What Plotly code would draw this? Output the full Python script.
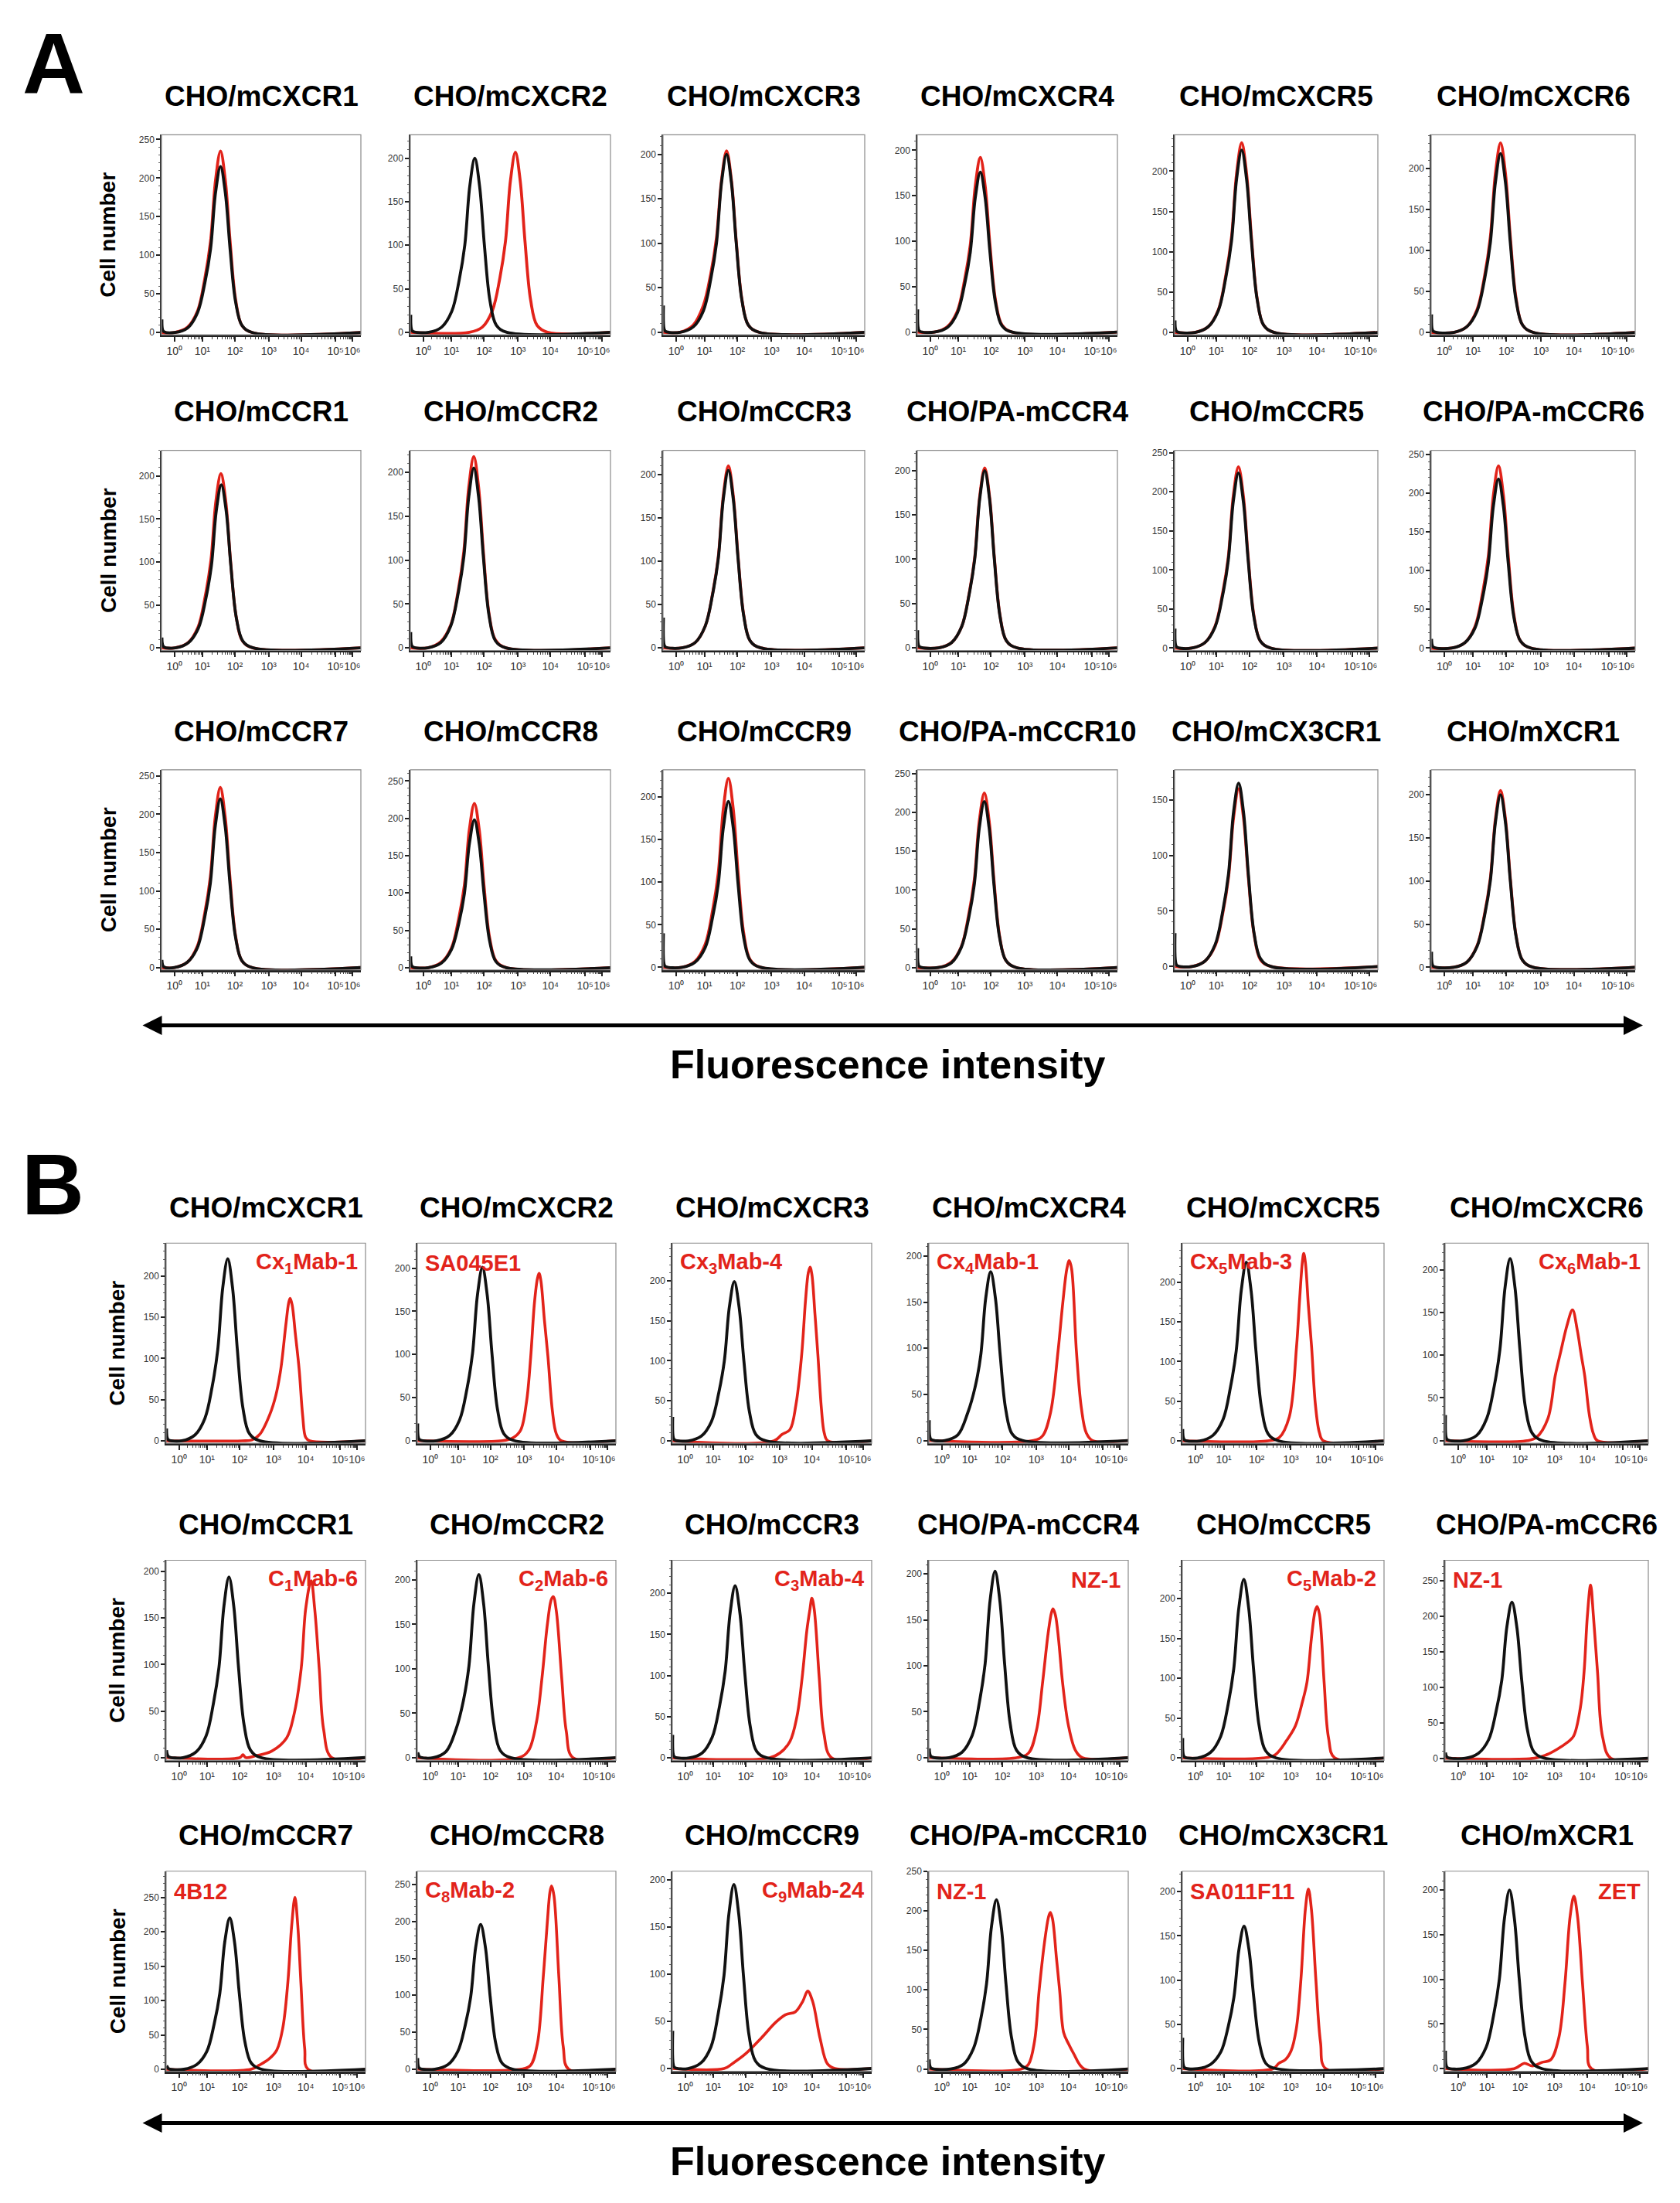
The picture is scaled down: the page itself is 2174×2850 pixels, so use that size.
import numpy as np
import plotly.graph_objects as go

# page size and the default 8px body margin of the html page
PAGE_W, PAGE_H = 2174, 2850
OFF = 8
FW, FH = PAGE_W - 2 * OFF, PAGE_H - 2 * OFF

RED = "#E2231A"
BLACK = "#111111"
FONT = "Liberation Sans, Arial, sans-serif"

TITLES = [
    "CHO/mCXCR1", "CHO/mCXCR2", "CHO/mCXCR3", "CHO/mCXCR4", "CHO/mCXCR5", "CHO/mCXCR6",
    "CHO/mCCR1", "CHO/mCCR2", "CHO/mCCR3", "CHO/PA-mCCR4", "CHO/mCCR5", "CHO/PA-mCCR6",
    "CHO/mCCR7", "CHO/mCCR8", "CHO/mCCR9", "CHO/PA-mCCR10", "CHO/mCX3CR1", "CHO/mXCR1",
]

B_LABELS = [
    "Cx<sub>1</sub>Mab-1", "SA045E1", "Cx<sub>3</sub>Mab-4", "Cx<sub>4</sub>Mab-1", "Cx<sub>5</sub>Mab-3", "Cx<sub>6</sub>Mab-1",
    "C<sub>1</sub>Mab-6", "C<sub>2</sub>Mab-6", "C<sub>3</sub>Mab-4", "NZ-1", "C<sub>5</sub>Mab-2", "NZ-1",
    "4B12", "C<sub>8</sub>Mab-2", "C<sub>9</sub>Mab-24", "NZ-1", "SA011F11", "ZET",
]
B_LABEL_SIDE = [
    "right", "left", "left", "left", "left", "right",
    "right", "right", "right", "right", "right", "left",
    "left", "left", "right", "left", "left", "right",
]

# channel position (0-1000 display scale) of 10^0 ... 10^6 and their labels
DECADES = [65, 205, 368, 538, 700, 873, 957]
DECADE_LABELS = ["10⁰", "10¹", "10²", "10³", "10⁴", "10⁵", "10⁶"]

YTOP_A = [256, 227, 222, 217, 245, 241, 230, 225, 228, 223, 253, 255, 258, 265, 232, 255, 177, 229]
YTOP_B = [240, 229, 247, 214, 249, 231, 212, 222, 240, 215, 248, 279, 288, 268, 209, 250, 223, 221]

# ---- section A: control (black) vs. staining (red)
A_BLACK_X = [
    [2, 5, 12, 66, 131, 181, 218, 246, 271, 296, 320, 344, 372, 404, 456, 1000],
    [2, 5, 12, 92, 157, 207, 244, 272, 297, 322, 346, 370, 398, 430, 482, 1000],
    [2, 5, 12, 85, 150, 200, 237, 265, 290, 315, 339, 363, 391, 423, 475, 1000],
    [2, 5, 12, 85, 150, 200, 237, 265, 290, 315, 339, 363, 391, 423, 475, 1000],
    [2, 5, 12, 100, 165, 215, 252, 280, 305, 330, 354, 378, 406, 438, 490, 1000],
    [2, 5, 12, 110, 175, 225, 262, 290, 315, 340, 364, 388, 416, 448, 500, 1000],
    [2, 5, 12, 70, 135, 185, 222, 250, 275, 300, 324, 348, 376, 408, 460, 1000],
    [2, 5, 12, 87, 152, 202, 239, 267, 292, 317, 341, 365, 393, 425, 477, 1000],
    [2, 5, 12, 94, 159, 209, 246, 274, 299, 324, 348, 372, 400, 432, 484, 1000],
    [2, 5, 12, 107, 172, 222, 259, 287, 312, 337, 361, 385, 413, 445, 497, 1000],
    [2, 5, 12, 84, 149, 199, 236, 264, 289, 314, 338, 362, 390, 422, 474, 1000],
    [2, 5, 12, 100, 165, 215, 252, 280, 305, 330, 354, 378, 406, 438, 490, 1000],
    [2, 5, 12, 65, 130, 180, 217, 245, 270, 295, 319, 343, 371, 403, 455, 1000],
    [2, 5, 12, 90, 155, 205, 242, 270, 295, 320, 344, 368, 396, 428, 480, 1000],
    [2, 5, 12, 94, 159, 209, 246, 274, 299, 324, 348, 372, 400, 432, 484, 1000],
    [2, 5, 12, 105, 170, 220, 257, 285, 310, 335, 359, 383, 411, 443, 495, 1000],
    [2, 5, 12, 85, 150, 200, 237, 265, 290, 315, 339, 363, 391, 423, 475, 1000],
    [2, 5, 12, 110, 175, 225, 262, 290, 315, 340, 364, 388, 416, 448, 500, 1000],
]
A_BLACK_Y = [
    [17, 4, 1, 0, 6, 26, 65, 108, 181, 215, 181, 108, 39, 9, 0, 0],
    [20, 4, 1, 0, 6, 24, 60, 100, 168, 200, 168, 100, 36, 8, 0, 0],
    [30, 4, 1, 0, 6, 24, 60, 100, 168, 200, 168, 100, 36, 8, 0, 0],
    [25, 4, 1, 0, 5, 21, 53, 88, 148, 176, 148, 88, 32, 7, 0, 0],
    [15, 4, 1, 0, 7, 27, 68, 113, 190, 226, 190, 113, 41, 9, 0, 0],
    [22, 4, 1, 0, 7, 26, 65, 109, 183, 218, 183, 109, 39, 9, 0, 0],
    [12, 4, 1, 0, 6, 23, 57, 95, 160, 190, 160, 95, 34, 8, 0, 0],
    [18, 4, 1, 0, 6, 25, 62, 103, 172, 205, 172, 103, 37, 8, 0, 0],
    [35, 4, 1, 0, 6, 25, 62, 103, 172, 205, 172, 103, 37, 8, 0, 0],
    [20, 4, 1, 0, 6, 24, 60, 100, 168, 200, 168, 100, 36, 8, 0, 0],
    [25, 4, 1, 0, 7, 27, 67, 112, 188, 224, 188, 112, 40, 9, 0, 0],
    [12, 4, 1, 0, 7, 26, 65, 109, 183, 218, 183, 109, 39, 9, 0, 0],
    [10, 4, 1, 0, 7, 26, 66, 110, 185, 220, 185, 110, 40, 9, 0, 0],
    [15, 4, 1, 0, 6, 24, 59, 99, 166, 198, 166, 99, 36, 8, 0, 0],
    [40, 4, 1, 0, 6, 23, 59, 98, 164, 195, 164, 98, 35, 8, 0, 0],
    [25, 4, 1, 0, 6, 26, 64, 107, 180, 214, 180, 107, 39, 9, 0, 0],
    [30, 4, 1, 0, 5, 20, 50, 83, 139, 165, 139, 83, 30, 7, 0, 0],
    [18, 4, 1, 0, 6, 24, 60, 100, 168, 200, 168, 100, 36, 8, 0, 0],
]
A_RED_X = [
    [0, 66, 131, 181, 218, 246, 271, 296, 320, 344, 372, 404, 456, 1000],
    [0, 295, 360, 410, 447, 475, 500, 525, 549, 573, 601, 633, 685, 1000],
    [0, 85, 150, 200, 237, 265, 290, 315, 339, 363, 391, 423, 475, 1000],
    [0, 85, 150, 200, 237, 265, 290, 315, 339, 363, 391, 423, 475, 1000],
    [0, 100, 165, 215, 252, 280, 305, 330, 354, 378, 406, 438, 490, 1000],
    [0, 110, 175, 225, 262, 290, 315, 340, 364, 388, 416, 448, 500, 1000],
    [0, 68, 133, 183, 220, 248, 273, 298, 322, 346, 374, 406, 458, 1000],
    [0, 87, 152, 202, 239, 267, 292, 317, 341, 365, 393, 425, 477, 1000],
    [0, 94, 159, 209, 246, 274, 299, 324, 348, 372, 400, 432, 484, 1000],
    [0, 107, 172, 222, 259, 287, 312, 337, 361, 385, 413, 445, 497, 1000],
    [0, 84, 149, 199, 236, 264, 289, 314, 338, 362, 390, 422, 474, 1000],
    [0, 100, 165, 215, 252, 280, 305, 330, 354, 378, 406, 438, 490, 1000],
    [0, 65, 130, 180, 217, 245, 270, 295, 319, 343, 371, 403, 455, 1000],
    [0, 90, 155, 205, 242, 270, 295, 320, 344, 368, 396, 428, 480, 1000],
    [0, 94, 159, 209, 246, 274, 299, 324, 348, 372, 400, 432, 484, 1000],
    [0, 105, 170, 220, 257, 285, 310, 335, 359, 383, 411, 443, 495, 1000],
    [0, 85, 150, 200, 237, 265, 290, 315, 339, 363, 391, 423, 475, 1000],
    [0, 110, 175, 225, 262, 290, 315, 340, 364, 388, 416, 448, 500, 1000],
]
A_RED_Y = [
    [0, 0, 7, 28, 71, 118, 197, 235, 197, 118, 42, 9, 0, 0],
    [0, 0, 6, 25, 62, 104, 174, 207, 174, 104, 37, 8, 0, 0],
    [0, 0, 8, 30, 66, 106, 171, 204, 171, 102, 37, 8, 0, 0],
    [0, 0, 6, 23, 58, 96, 161, 192, 161, 96, 35, 8, 0, 0],
    [0, 0, 7, 28, 71, 118, 197, 235, 197, 118, 42, 9, 0, 0],
    [0, 0, 7, 28, 69, 116, 194, 231, 194, 116, 42, 9, 0, 0],
    [0, 0, 6, 24, 61, 102, 171, 203, 171, 102, 37, 8, 0, 0],
    [0, 0, 7, 26, 65, 109, 183, 218, 183, 109, 39, 9, 0, 0],
    [0, 0, 6, 25, 63, 105, 176, 210, 176, 105, 38, 8, 0, 0],
    [0, 0, 6, 24, 61, 102, 171, 203, 171, 102, 37, 8, 0, 0],
    [0, 0, 7, 28, 70, 116, 195, 232, 195, 116, 42, 9, 0, 0],
    [0, 0, 7, 28, 71, 118, 197, 235, 197, 118, 42, 9, 0, 0],
    [0, 0, 7, 28, 71, 118, 197, 235, 197, 118, 42, 9, 0, 0],
    [0, 0, 7, 26, 66, 110, 185, 220, 185, 110, 40, 9, 0, 0],
    [0, 0, 7, 27, 67, 111, 186, 222, 186, 111, 40, 9, 0, 0],
    [0, 0, 7, 27, 68, 113, 189, 225, 189, 113, 41, 9, 0, 0],
    [0, 0, 5, 19, 48, 80, 134, 160, 134, 80, 29, 6, 0, 0],
    [0, 0, 6, 25, 62, 103, 172, 205, 172, 103, 37, 8, 0, 0],
]

# ---- section B: control (black) vs. specific mAb (red)
B_BLACK_X = [
    [2, 5, 12, 79, 144, 194, 231, 259, 284, 309, 333, 357, 385, 417, 469, 1000],
    [2, 5, 12, 98, 163, 213, 250, 278, 303, 328, 352, 376, 404, 436, 488, 1000],
    [2, 5, 12, 81, 146, 196, 233, 261, 286, 311, 335, 359, 387, 419, 471, 1000],
    [2, 5, 12, 80, 145, 195, 232, 260, 285, 310, 334, 358, 386, 418, 470, 1000],
    [2, 5, 12, 87, 152, 202, 239, 267, 292, 317, 341, 365, 393, 425, 477, 1000],
    [2, 5, 12, 90, 155, 205, 242, 270, 295, 320, 344, 368, 396, 428, 480, 1000],
    [2, 5, 12, 85, 150, 200, 237, 265, 290, 315, 339, 363, 391, 423, 475, 1000],
    [2, 5, 12, 80, 145, 195, 232, 260, 285, 310, 334, 358, 386, 418, 470, 1000],
    [2, 5, 12, 85, 150, 200, 237, 265, 290, 315, 339, 363, 391, 423, 475, 1000],
    [2, 5, 12, 102, 167, 217, 254, 282, 307, 332, 356, 380, 408, 440, 492, 1000],
    [2, 5, 12, 75, 140, 190, 227, 255, 280, 305, 329, 353, 381, 413, 465, 1000],
    [2, 5, 12, 99, 164, 214, 251, 279, 304, 329, 353, 377, 405, 437, 489, 1000],
    [2, 5, 12, 89, 154, 204, 241, 269, 294, 319, 343, 367, 395, 427, 479, 1000],
    [2, 5, 12, 89, 154, 204, 241, 269, 294, 319, 343, 367, 395, 427, 479, 1000],
    [2, 5, 12, 79, 144, 194, 231, 259, 284, 309, 333, 357, 385, 417, 469, 1000],
    [2, 5, 12, 109, 174, 224, 261, 289, 314, 339, 363, 387, 415, 447, 499, 1000],
    [2, 5, 12, 76, 141, 191, 228, 256, 281, 306, 330, 354, 382, 414, 466, 1000],
    [2, 5, 12, 87, 152, 202, 239, 267, 292, 317, 341, 365, 393, 425, 477, 1000],
]
B_BLACK_Y = [
    [15, 4, 1, 0, 7, 27, 66, 111, 186, 221, 186, 111, 40, 9, 0, 0],
    [20, 4, 1, 0, 6, 24, 60, 101, 169, 201, 169, 101, 36, 8, 0, 0],
    [30, 4, 1, 0, 6, 24, 60, 100, 167, 199, 167, 100, 36, 8, 0, 0],
    [22, 4, 1, 0, 6, 30, 58, 92, 154, 183, 154, 92, 33, 7, 0, 0],
    [15, 4, 1, 0, 7, 27, 68, 113, 189, 225, 189, 113, 41, 9, 0, 0],
    [30, 4, 1, 0, 6, 26, 64, 107, 179, 213, 179, 107, 38, 9, 0, 0],
    [8, 4, 1, 0, 6, 23, 58, 97, 163, 194, 163, 97, 35, 8, 0, 0],
    [6, 4, 1, 0, 7, 32, 64, 103, 173, 206, 173, 103, 37, 8, 0, 0],
    [28, 4, 1, 0, 6, 25, 63, 105, 176, 209, 176, 105, 38, 8, 0, 0],
    [10, 4, 1, 0, 6, 24, 61, 102, 171, 203, 171, 102, 37, 8, 0, 0],
    [25, 4, 1, 0, 7, 27, 67, 112, 188, 224, 188, 112, 40, 9, 0, 0],
    [8, 4, 1, 0, 7, 26, 66, 110, 185, 220, 185, 110, 40, 9, 0, 0],
    [5, 4, 1, 0, 7, 26, 66, 110, 185, 220, 185, 110, 40, 9, 0, 0],
    [15, 4, 1, 0, 6, 24, 59, 98, 165, 196, 165, 98, 35, 8, 0, 0],
    [40, 4, 1, 0, 6, 23, 59, 98, 164, 195, 164, 98, 35, 8, 0, 0],
    [12, 4, 1, 0, 6, 26, 64, 107, 180, 214, 180, 107, 39, 9, 0, 0],
    [35, 4, 1, 0, 5, 19, 48, 81, 135, 161, 135, 81, 29, 6, 0, 0],
    [20, 4, 1, 0, 6, 24, 60, 100, 168, 200, 168, 100, 36, 8, 0, 0],
]
B_RED_X = [
    [0, 380, 430, 470, 520, 550, 575, 600, 615, 622, 632, 648, 667, 685, 700, 720, 1000],
    [0, 430, 480, 520, 550, 571, 590, 605, 613, 622, 640, 658, 680, 700, 725, 1000],
    [0, 510, 550, 590, 620, 649, 668, 682, 691, 700, 715, 730, 748, 762, 780, 1000],
    [0, 525, 570, 610, 648, 672, 692, 704, 716, 740, 765, 790, 820, 1000],
    [0, 425, 480, 530, 566, 582, 595, 602, 610, 625, 641, 660, 680, 700, 1000],
    [0, 405, 450, 506, 542, 570, 600, 627, 650, 670, 687, 710, 730, 750, 1000],
    [0, 370, 385, 400, 450, 530, 604, 640, 677, 700, 727, 745, 768, 790, 830, 1000],
    [0, 510, 560, 600, 628, 655, 675, 685, 700, 727, 750, 784, 1000],
    [0, 485, 540, 590, 625, 651, 675, 690, 700, 712, 737, 760, 800, 1000],
    [0, 445, 500, 540, 570, 598, 615, 623, 635, 650, 671, 700, 735, 770, 1000],
    [0, 400, 460, 517, 560, 595, 618, 640, 658, 668, 680, 703, 725, 756, 1000],
    [0, 440, 500, 553, 600, 632, 665, 684, 700, 716, 730, 750, 775, 816, 1000],
    [0, 425, 467, 516, 555, 585, 610, 630, 646, 660, 676, 695, 712, 1000],
    [0, 525, 570, 605, 634, 655, 668, 676, 688, 713, 735, 762, 1000],
    [0, 260, 300, 370, 445, 519, 568, 617, 654, 679, 704, 741, 778, 815, 1000],
    [0, 465, 500, 530, 553, 580, 600, 609, 620, 640, 656, 676, 700, 725, 779, 1000],
    [0, 450, 478, 510, 539, 565, 588, 610, 625, 640, 662, 685, 711, 1000],
    [0, 340, 390, 430, 476, 520, 560, 590, 615, 634, 652, 676, 700, 720, 1000],
]
B_RED_Y = [
    [0, 0, 1, 8, 32, 55, 87, 140, 168, 173, 165, 130, 87, 30, 4, 0, 0],
    [0, 0, 3, 12, 45, 97, 160, 188, 194, 186, 140, 97, 35, 8, 0, 0],
    [0, 0, 8, 14, 45, 108, 175, 210, 217, 208, 160, 108, 40, 10, 0, 0],
    [0, 0, 5, 30, 97, 150, 186, 195, 186, 97, 35, 8, 0, 0],
    [0, 0, 4, 30, 118, 180, 225, 236, 225, 170, 118, 45, 10, 0, 0],
    [0, 0, 4, 26, 76, 105, 135, 153, 130, 100, 76, 30, 8, 0, 0],
    [0, 0, 3, 0, 2, 7, 21, 45, 95, 160, 190, 160, 95, 30, 0, 0],
    [0, 0, 8, 40, 90, 150, 178, 181, 165, 90, 30, 0, 0],
    [0, 0, 6, 20, 50, 97, 155, 180, 194, 180, 97, 30, 0, 0],
    [0, 0, 5, 30, 81, 135, 158, 162, 155, 130, 81, 35, 8, 0, 0],
    [0, 0, 4, 22, 40, 70, 95, 150, 184, 190, 180, 95, 25, 0, 0],
    [0, 0, 5, 13, 22, 31, 70, 122, 200, 244, 200, 122, 30, 0, 0],
    [0, 0, 6, 15, 28, 60, 125, 210, 250, 210, 125, 30, 0, 0],
    [0, 0, 5, 35, 124, 200, 240, 248, 235, 124, 30, 0, 0],
    [0, 0, 5, 16, 32, 49, 57, 60, 71, 82, 71, 32, 5, 0, 0],
    [0, 0, 6, 35, 99, 160, 192, 198, 190, 140, 99, 46, 32, 20, 0, 0],
    [0, 0, 6, 10, 20, 45, 101, 180, 203, 180, 101, 30, 0, 0],
    [0, 0, 6, 3, 7, 10, 35, 96, 170, 193, 170, 96, 25, 0, 0],
]

# ---- page geometry (pixels in the 2174x2850 page)
A_COLS = [(209, 467), (531, 790), (858, 1119), (1187, 1446), (1520, 1783), (1852, 2116)]
B_COLS = [(215, 473), (540, 797), (870, 1128), (1202, 1460), (1530, 1791), (1870, 2133)]
A_TOPS = [168, 578, 993]
B_TOPS = [1608, 2020, 2424]
BOX_H = 260


def px(x):
    return (x - OFF) / FW


def py(y):
    return 1 - (y - OFF) / FH


def note(x, y, text, size, color="black", xanchor="center", **kw):
    return dict(x=px(x), y=py(y), xref="paper", yref="paper", text=text,
                showarrow=False, xanchor=xanchor, yanchor="middle",
                font=dict(family=FONT, size=size, color=color), **kw)


MINOR_X = [DECADES[k] + np.log10(m) * (DECADES[k + 1] - DECADES[k])
           for k in range(6) for m in range(2, 10)]

fig = go.Figure()
layout = {}
annotations = []
shapes = []


def add_panel(n, box, top, ytop, curves):
    xr = "x" if n == 1 else f"x{n}"
    yr = "y" if n == 1 else f"y{n}"
    for xs, ys, col, w in curves:
        fig.add_trace(
            go.Scatter(
                x=xs, y=ys, mode="lines",
                line=dict(color=col, width=w, shape="spline", smoothing=1.0),
                xaxis=xr, yaxis=yr, showlegend=False, hoverinfo="skip",
            )
        )
    layout["xaxis" if n == 1 else f"xaxis{n}"] = dict(
        domain=[px(box[0]), px(box[1])], anchor=yr, range=[0, 1000],
        tickvals=DECADES, ticktext=DECADE_LABELS, tickangle=0,
        ticks="outside", ticklen=6, tickwidth=1.5, tickcolor="#222",
        showline=True, linecolor="#222", linewidth=2.5,
        showgrid=False, zeroline=False,
        tickfont=dict(family=FONT, size=14, color="#333"),
        minor=dict(tickvals=MINOR_X, ticklen=3, tickwidth=1, tickcolor="#444", ticks="outside"),
    )
    layout["yaxis" if n == 1 else f"yaxis{n}"] = dict(
        domain=[py(top + BOX_H), py(top)], anchor=xr, range=[-3, ytop],
        tick0=0, dtick=50, ticks="outside", ticklen=5, tickwidth=1.5, tickcolor="#222",
        showline=True, linecolor="#333", linewidth=1.5,
        showgrid=False, zeroline=False,
        tickfont=dict(family=FONT, size=12, color="#333"),
        minor=dict(dtick=10, ticklen=2, tickwidth=1, tickcolor="#666", ticks="outside"),
    )
    # thin grey frame on top and right
    shapes.append(dict(type="rect", xref=f"{xr} domain", yref=f"{yr} domain",
                       x0=0, x1=1, y0=0, y1=1, line=dict(color="#8a8a8a", width=1.2)))


for i in range(18):
    r, c = divmod(i, 6)
    # section A
    box, top = A_COLS[c], A_TOPS[r]
    add_panel(i + 1, box, top, YTOP_A[i], [
        (A_RED_X[i], A_RED_Y[i], RED, 3.8),
        (A_BLACK_X[i], A_BLACK_Y[i], BLACK, 3.8),
    ])
    annotations.append(note((box[0] + box[1]) / 2, top - 50, f"<b>{TITLES[i]}</b>", 37))
    # section B
    box, top = B_COLS[c], B_TOPS[r]
    add_panel(i + 19, box, top, YTOP_B[i], [
        (B_RED_X[i], B_RED_Y[i], RED, 3.6),
        (B_BLACK_X[i], B_BLACK_Y[i], BLACK, 3.8),
    ])
    annotations.append(note((box[0] + box[1]) / 2, top - 46, f"<b>{TITLES[i]}</b>", 37))
    if B_LABEL_SIDE[i] == "left":
        annotations.append(note(box[0] + 8, top + 26, f"<b>{B_LABELS[i]}</b>", 29, RED, "left"))
    else:
        annotations.append(note(box[1] - 8, top + 26, f"<b>{B_LABELS[i]}</b>", 29, RED, "right"))

# y-axis titles
for tops, xpos in ((A_TOPS, 140), (B_TOPS, 152)):
    for top in tops:
        annotations.append(note(xpos, top + BOX_H / 2, "<b>Cell number</b>", 28, textangle=-90))

# panel letters
annotations.append(note(70, 76, "<b>A</b>", 112))
annotations.append(note(68, 1532, "<b>B</b>", 112))

# double-headed fluorescence arrows and captions
for ay_px, ty in ((1325, 1376), (2751, 2801)):
    annotations.append(dict(x=px(2126), y=py(ay_px), xref="paper", yref="paper",
                            ax=-(2126 - 183), ay=0, axref="pixel", ayref="pixel",
                            text="", showarrow=True, arrowhead=2, startarrowhead=2,
                            arrowside="end+start", arrowsize=1.0, startarrowsize=1.0,
                            arrowwidth=5, arrowcolor="black"))
    annotations.append(note(1149, ty, "<b>Fluorescence intensity</b>", 52))

fig.update_layout(layout)
fig.update_layout(
    width=FW, height=FH,
    margin=dict(l=0, r=0, t=0, b=0),
    paper_bgcolor="white", plot_bgcolor="white",
    annotations=annotations, shapes=shapes,
    showlegend=False,
)

fig.write_html("out.html")
